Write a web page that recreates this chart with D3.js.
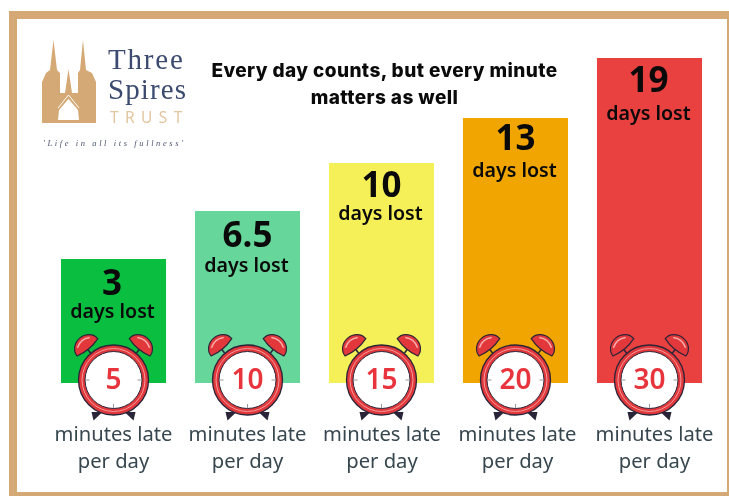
<!DOCTYPE html>
<html><head><meta charset="utf-8">
<script src="https://cdn.jsdelivr.net/npm/d3@7/dist/d3.min.js"></script>
<style>html,body{margin:0;padding:0;background:#fff}svg{display:block}</style></head>
<body><div id="c"></div>
<script>
const minutes = [5, 10, 15, 20, 30];
const daysLost = ["3", "6.5", "10", "13", "19"];
const barLength = [124, 172, 220, 265, 325]; // drawn bar lengths (graphic is not to scale)
const barColors = ["#0abf3f", "#66d69a", "#f5f057", "#f0a500", "#e94040"];
const titleLines = ["Every day counts, but every minute", "matters as well"];
const caption = ["minutes late", "per day"];
const tagline = "'Life in all its fullness'";

const W = 729, H = 496, base = 383;
const svg = d3.select("#c").append("svg").attr("width", W).attr("height", H).style("filter","blur(0.4px)");
const tan = "#d4a976", sans = "'Noto Sans','Open Sans',sans-serif", head = "Inter,'Open Sans',sans-serif";

svg.append("rect").attr("x",9).attr("y",11).attr("width",W-9).attr("height",H-11).attr("fill",tan);
svg.append("rect").attr("x",17).attr("y",19).attr("width",727-17).attr("height",492-19).attr("fill","#fff");

const x = d3.scaleBand().domain(d3.range(minutes.length)).range([61,702]).paddingInner(0.216).paddingOuter(0);
const y = d3.scaleLinear().domain([0,325]).range([base,58]);
const cx = i => x(i)+x.bandwidth()/2;
const captionShift = [0,0,0.5,2,5];
const numberOffset = [36,36,34,32,34];
const unitOffset = [59,61,57,59,62];

svg.selectAll("rect.bar").data(barLength).join("rect").attr("class","bar")
  .attr("x",(d,i)=>x(i)).attr("y",d=>y(d)).attr("width",x.bandwidth()).attr("height",d=>base-y(d))
  .attr("fill",(d,i)=>barColors[i]);

// title
svg.selectAll("text.title").data(titleLines).join("text").attr("class","title")
  .attr("x",384.5).attr("y",(d,i)=>77+i*27).attr("text-anchor","middle")
  .attr("font-family",head).attr("font-weight",800).attr("font-size",19).attr("letter-spacing",0.42).attr("fill","#0a0a0a").text(d=>d);

const g = svg.selectAll("g.col").data(minutes).join("g").attr("class","col");
g.append("text").attr("x",(d,i)=>cx(i)+(i==0?-1.5:i==4?-1:0)).attr("y",(d,i)=>y(barLength[i])+numberOffset[i])
  .attr("text-anchor","middle").attr("font-family",sans).attr("font-weight",700).attr("font-size",35).attr("fill","#0a0a0a")
  .text((d,i)=>daysLost[i]);
g.append("text").attr("x",(d,i)=>cx(i)-1).attr("y",(d,i)=>y(barLength[i])+unitOffset[i])
  .attr("text-anchor","middle").attr("font-family",sans).attr("font-weight",600).attr("font-size",19.6).attr("fill","#0a0a0a")
  .text("days lost");

// clocks
g.each(function(d,i){
  const c = d3.select(this).append("g").attr("transform",`translate(${cx(i)},380)`);
  const dark="#2a2438", red="#e2383c";
  [-1,1].forEach(s=>{
    c.append("path").attr("d",`M${s*11},32 L${s*20},40.5 L${s*22},32 Z`).attr("fill",dark);
    c.append("line").attr("x1",s*23).attr("y1",-27).attr("x2",s*26).attr("y2",-31).attr("stroke",dark).attr("stroke-width",1.5);
    c.append("path").attr("transform",`translate(${s*28},-35) rotate(${s*40})`)
      .attr("d","M-13.5,3 A13.5,12 0 0 1 13.5,3 Q0,7 -13.5,3 Z").attr("fill",red).attr("stroke",dark).attr("stroke-width",1.2);
    c.append("path").attr("transform",`translate(${s*28},-35) rotate(${s*40})`)
      .attr("d","M-8,-3 Q0,-8 8,-3").attr("fill","none").attr("stroke","#f6b0ad").attr("stroke-width",1.5);
  });
  c.append("circle").attr("r",35).attr("fill",red).attr("stroke",dark).attr("stroke-width",1.3);
  c.append("circle").attr("r",31.5).attr("fill","none").attr("stroke","#f29a9a").attr("stroke-width",1);
  c.append("circle").attr("r",28.5).attr("fill","#fff").attr("stroke",dark).attr("stroke-width",1);
  [[0,28,0,24],[28,0,24,0],[-28,0,-24,0]].forEach(t=>c.append("line").attr("x1",t[0]).attr("y1",t[1]).attr("x2",t[2]).attr("y2",t[3]).attr("stroke","#999").attr("stroke-width",1));
  c.append("text").attr("y",8.5).attr("text-anchor","middle").attr("font-family",sans).attr("font-weight",600)
    .attr("font-size",28).attr("fill","#e8353d").text(d);
  caption.forEach((t,k)=>d3.select(this).append("text").attr("x",cx(i)+captionShift[i]).attr("y",441+k*27).attr("text-anchor","middle")
    .attr("font-family",sans).attr("font-size",20.2).attr("fill","#37474f").text(t));
});

// logo
const logo = svg.append("g");
logo.append("path").attr("fill",tan).attr("fill-rule","evenodd").attr("d",
 "M42,123 L42,82 L46,73 L50,70 L53.5,40 L57,70 L60,73 L60,93 L65,93 L68.5,69 L72,93 L78,93 L78,73 L80,70 L83,40 L86,70 L92,73 L96,82 L96,123 Z M58,120 L79,120 L78,110 L68.5,99 L59,110 Z");
logo.append("path").attr("fill","none").attr("stroke","#fff").attr("stroke-width",1).attr("d","M58,108 L68.5,95 L79,108");
logo.selectAll("text.l").data(["Three","Spires"]).join("text").attr("class","l")
  .attr("x",108).attr("y",(d,i)=>69+i*29.5).attr("font-family","'Liberation Serif',serif")
  .attr("font-size",29).attr("letter-spacing",(d,i)=>i?1.1:1.8).attr("fill","#3b4a6e").text(d=>d);
logo.append("text").attr("x",110).attr("y",123).attr("font-family",sans).attr("font-size",15.5).attr("letter-spacing",6.4).attr("fill","#e2c6a0").text("TRUST");
logo.append("text").attr("x",43).attr("y",145.5).attr("font-family","'Liberation Serif',serif").attr("font-style","italic")
  .attr("font-size",8.5).attr("letter-spacing",2.6).attr("fill","#4b5672").text(tagline);
</script></body></html>
